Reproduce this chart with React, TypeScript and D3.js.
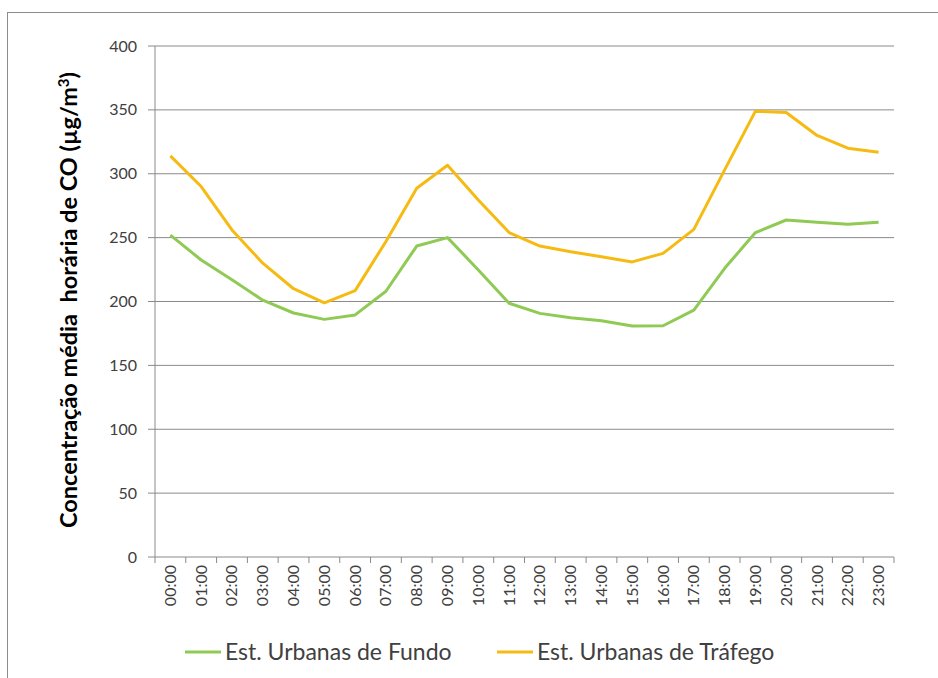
import React from "react";
import * as d3 from "d3";

const hours = ["00:00","01:00","02:00","03:00","04:00","05:00","06:00","07:00","08:00","09:00","10:00","11:00","12:00","13:00","14:00","15:00","16:00","17:00","18:00","19:00","20:00","21:00","22:00","23:00"];
const fundo = [252, 232.5, 217, 201, 191, 186, 189.5, 208, 243.4, 250, 224.7, 198.6, 190.7, 187.3, 185, 180.8, 181, 193.3, 226, 254, 263.8, 262, 260.4, 262];
const trafego = [314, 290, 256, 230, 210, 199, 208.5, 247, 288.6, 306.6, 279.5, 254, 243.4, 239, 235, 231, 237.7, 256.5, 303, 349, 348, 330, 320, 316.8];
const yTicks = [0, 50, 100, 150, 200, 250, 300, 350, 400];
const seriesNames = ["Est. Urbanas de Fundo", "Est. Urbanas de Tráfego"];
const colors = ["#8fca55", "#f5bb12"];

export default function App() {
  const W = 938, H = 678;
  const left = 155, right = 894, top = 46, bottom = 557;
  const x = d3.scaleBand<string>().domain(hours).range([left, right]);
  const y = d3.scaleLinear().domain([0, 400]).range([bottom, top]);
  const line = d3.line<number>()
    .x((_, i) => (x(hours[i]) as number) + x.bandwidth() / 2)
    .y((d) => y(d));
  const font = "Lato, 'Open Sans', sans-serif";
  const txt = "#404040";
  return (
    <svg width={W} height={H} style={{ position: "absolute", left: 0, top: 0, background: "#fff" }}>
      <rect x={7.5} y={12.5} width={W + 10} height={H + 10} fill="#fff" stroke="#8c8c8c" strokeWidth={1} />
      {yTicks.map((t) => (
        <g key={t}>
          <line x1={148} x2={right} y1={y(t)} y2={y(t)} stroke="#8a8a8a" strokeWidth={1} />
          <text x={137} y={y(t)} dy="0.35em" textAnchor="end" fontFamily={font} fontSize={16} fill={txt}>{t}</text>
        </g>
      ))}
      <line x1={left} x2={left} y1={top} y2={bottom} stroke="#8a8a8a" strokeWidth={1} />
      {hours.map((h) => (
        <line key={"tk" + h} x1={(x(h) as number)} x2={(x(h) as number)} y1={bottom} y2={bottom + 6} stroke="#8a8a8a" />
      ))}
      <line x1={right} x2={right} y1={bottom} y2={bottom + 6} stroke="#8a8a8a" />
      {hours.map((h) => {
        const cx = (x(h) as number) + x.bandwidth() / 2;
        return (
          <text key={h} transform={`translate(${cx + 5.5},${565}) rotate(-90)`} textAnchor="end" fontFamily={font} fontSize={16} fill={txt}>{h}</text>
        );
      })}
      <text transform={`translate(77,${300}) rotate(-90)`} textAnchor="middle" fontFamily={font} fontSize={23.5} fontWeight="bold" fill="#000" style={{ whiteSpace: "pre" }}>
        {"Concentração média  horária de CO (µg/m"}<tspan dy={-8} fontSize={15}>3</tspan><tspan dy={8}>)</tspan>
      </text>
      {[fundo, trafego].map((s, k) => (
        <path key={k} d={line(s) as string} fill="none" stroke={colors[k]} strokeWidth={3} strokeLinejoin="round" />
      ))}
      <line x1={185} x2={221} y1={652} y2={652} stroke={colors[0]} strokeWidth={3} />
      <text x={225} y={652} dy="0.35em" fontFamily={font} fontSize={23} fill={txt}>{seriesNames[0]}</text>
      <line x1={497} x2={533} y1={652} y2={652} stroke={colors[1]} strokeWidth={3} />
      <text x={537} y={652} dy="0.35em" fontFamily={font} fontSize={23} fill={txt}>{seriesNames[1]}</text>
    </svg>
  );
}
